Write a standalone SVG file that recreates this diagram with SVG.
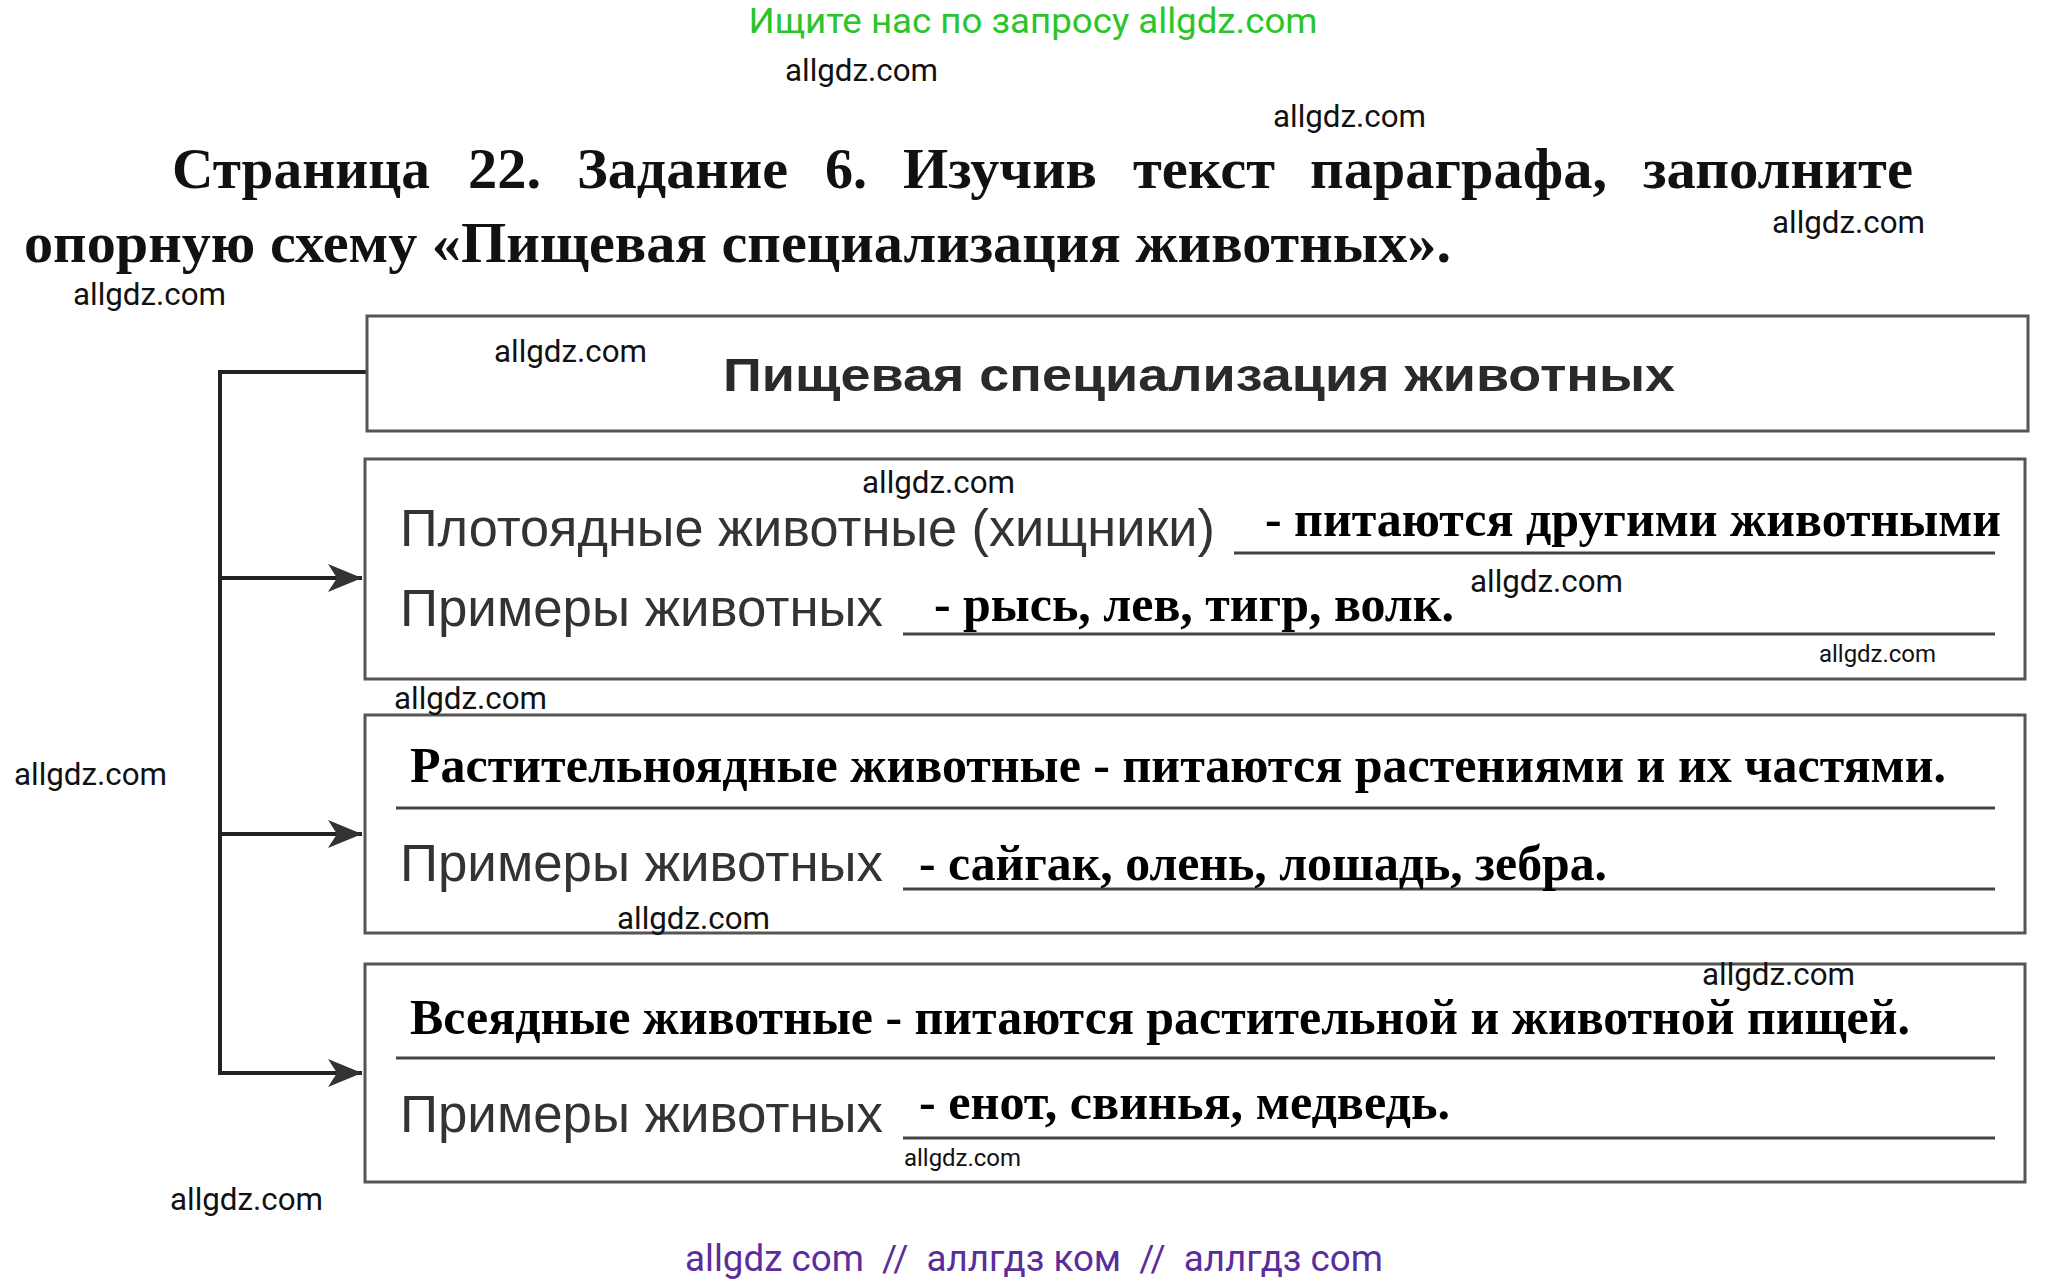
<svg xmlns="http://www.w3.org/2000/svg" width="2069" height="1285" viewBox="0 0 2069 1285">
<style>
.bg{fill:#ffffff}
.wm{font-family:Roboto,"Liberation Sans",sans-serif;font-size:31px;fill:#111}
.wms{font-family:Roboto,"Liberation Sans",sans-serif;font-size:24px;fill:#111}
.head{font-family:"Liberation Serif","Times New Roman",serif;font-weight:bold;font-size:58px;fill:#111}
.box{fill:#ffffff;stroke:#555;stroke-width:3}
.ttl{font-family:"Liberation Sans",Arial,sans-serif;font-weight:bold;font-size:46px;fill:#2a2a2a}
.lbl{font-family:"Liberation Sans",Arial,sans-serif;font-size:51px;fill:#333}
.ans{font-family:"Liberation Serif","Times New Roman",serif;font-weight:bold;font-size:50px;fill:#000}
.ul{stroke:#444;stroke-width:3;fill:none}
.con{stroke:#222;stroke-width:4;fill:none}
</style>
<defs>
<marker id="ah" markerUnits="userSpaceOnUse" markerWidth="36" markerHeight="28" refX="34" refY="14" orient="auto">
<path d="M0,0 L34,14 L0,28 L9,14 Z" fill="#333"/>
</marker>
</defs>
<rect class="bg" x="0" y="0" width="2069" height="1285"/>

<g id="header">
<text x="1033" y="33" text-anchor="middle" font-family="Roboto,'Liberation Sans',sans-serif" font-size="35" fill="#2bc42b" textLength="569" lengthAdjust="spacingAndGlyphs">Ищите нас по запросу allgdz.com</text>
<text class="head" x="172" y="188" textLength="258" lengthAdjust="spacingAndGlyphs">Страница</text>
<text class="head" x="468" y="188" textLength="73" lengthAdjust="spacingAndGlyphs">22.</text>
<text class="head" x="577" y="188" textLength="211" lengthAdjust="spacingAndGlyphs">Задание</text>
<text class="head" x="825" y="188" textLength="42" lengthAdjust="spacingAndGlyphs">6.</text>
<text class="head" x="903" y="188" textLength="194" lengthAdjust="spacingAndGlyphs">Изучив</text>
<text class="head" x="1133" y="188" textLength="142" lengthAdjust="spacingAndGlyphs">текст</text>
<text class="head" x="1310" y="188" textLength="297" lengthAdjust="spacingAndGlyphs">параграфа,</text>
<text class="head" x="1643" y="188" textLength="270" lengthAdjust="spacingAndGlyphs">заполните</text>
<text class="head" x="24" y="262" textLength="1427" lengthAdjust="spacingAndGlyphs">опорную схему «Пищевая специализация животных».</text>
</g>

<g id="connectors">
<path class="con" d="M367,372 H220 V1073 H362" marker-end="url(#ah)"/>
<path class="con" d="M220,578 H362" marker-end="url(#ah)"/>
<path class="con" d="M220,834 H362" marker-end="url(#ah)"/>
</g>

<g id="node-title">
<rect class="box" x="367" y="316" width="1661" height="115"/>
<text class="ttl" x="723" y="391" textLength="952" lengthAdjust="spacingAndGlyphs">Пищевая специализация животных</text>
</g>

<g id="node-carnivores">
<rect class="box" x="365" y="459" width="1660" height="220"/>
<text class="lbl" x="400" y="546" textLength="815" lengthAdjust="spacingAndGlyphs">Плотоядные животные (хищники)</text>
<line class="ul" x1="1234" y1="553" x2="1995" y2="553"/>
<text class="ans" x="1265" y="536" textLength="736" lengthAdjust="spacingAndGlyphs">- питаются другими животными</text>
<text class="lbl" x="400" y="626" textLength="483" lengthAdjust="spacingAndGlyphs">Примеры животных</text>
<line class="ul" x1="903" y1="634" x2="1995" y2="634"/>
<text class="ans" x="934" y="621" textLength="520" lengthAdjust="spacingAndGlyphs">- рысь, лев, тигр, волк.</text>
</g>

<g id="node-herbivores">
<rect class="box" x="365" y="715" width="1660" height="218"/>
<text class="ans" x="410" y="782" textLength="1536" lengthAdjust="spacingAndGlyphs">Растительноядные животные - питаются растениями и их частями.</text>
<line class="ul" x1="396" y1="808" x2="1995" y2="808"/>
<text class="lbl" x="400" y="881" textLength="483" lengthAdjust="spacingAndGlyphs">Примеры животных</text>
<line class="ul" x1="903" y1="889" x2="1995" y2="889"/>
<text class="ans" x="919" y="880" textLength="688" lengthAdjust="spacingAndGlyphs">- сайгак, олень, лошадь, зебра.</text>
</g>

<g id="node-omnivores">
<rect class="box" x="365" y="964" width="1660" height="218"/>
<text class="ans" x="410" y="1034" textLength="1500" lengthAdjust="spacingAndGlyphs">Всеядные животные - питаются растительной и животной пищей.</text>
<line class="ul" x1="396" y1="1058" x2="1995" y2="1058"/>
<text class="lbl" x="400" y="1132" textLength="483" lengthAdjust="spacingAndGlyphs">Примеры животных</text>
<line class="ul" x1="903" y1="1138" x2="1995" y2="1138"/>
<text class="ans" x="919" y="1119" textLength="531" lengthAdjust="spacingAndGlyphs">- енот, свинья, медведь.</text>
</g>

<g id="watermarks">
<text class="wm" x="785" y="81" textLength="153" lengthAdjust="spacingAndGlyphs">allgdz.com</text>
<text class="wm" x="1273" y="127" textLength="153" lengthAdjust="spacingAndGlyphs">allgdz.com</text>
<text class="wm" x="1772" y="233" textLength="153" lengthAdjust="spacingAndGlyphs">allgdz.com</text>
<text class="wm" x="73" y="305" textLength="153" lengthAdjust="spacingAndGlyphs">allgdz.com</text>
<text class="wm" x="494" y="362" textLength="153" lengthAdjust="spacingAndGlyphs">allgdz.com</text>
<text class="wm" x="862" y="493" textLength="153" lengthAdjust="spacingAndGlyphs">allgdz.com</text>
<text class="wm" x="1470" y="592" textLength="153" lengthAdjust="spacingAndGlyphs">allgdz.com</text>
<text class="wms" x="1819" y="662" textLength="117" lengthAdjust="spacingAndGlyphs">allgdz.com</text>
<text class="wm" x="394" y="709" textLength="153" lengthAdjust="spacingAndGlyphs">allgdz.com</text>
<text class="wm" x="14" y="785" textLength="153" lengthAdjust="spacingAndGlyphs">allgdz.com</text>
<text class="wm" x="617" y="929" textLength="153" lengthAdjust="spacingAndGlyphs">allgdz.com</text>
<text class="wm" x="1702" y="985" textLength="153" lengthAdjust="spacingAndGlyphs">allgdz.com</text>
<text class="wms" x="904" y="1166" textLength="117" lengthAdjust="spacingAndGlyphs">allgdz.com</text>
<text class="wm" x="170" y="1210" textLength="153" lengthAdjust="spacingAndGlyphs">allgdz.com</text>
</g>

<g id="footer">
<text x="685" y="1271" font-family="Roboto,'Liberation Sans',sans-serif" font-size="37" fill="#5b2c9b" xml:space="preserve" textLength="698" lengthAdjust="spacingAndGlyphs">allgdz com  //  аллгдз ком  //  аллгдз com</text>
</g>
</svg>
